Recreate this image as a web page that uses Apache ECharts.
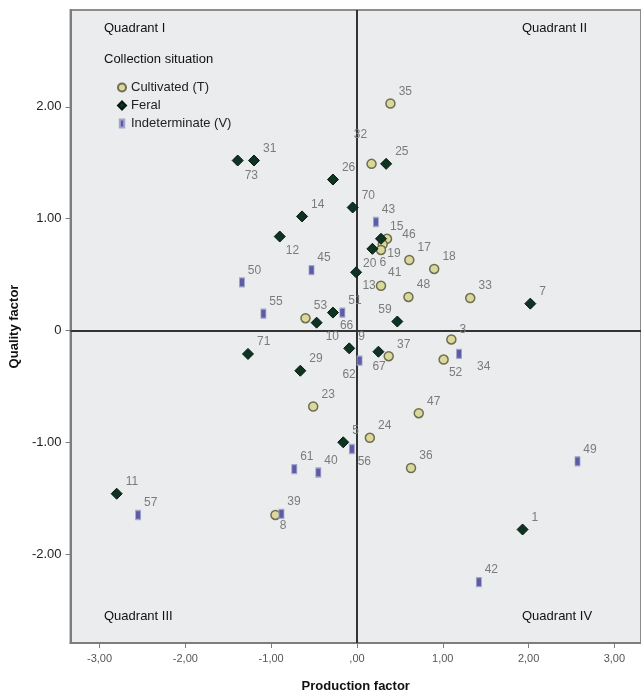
<!DOCTYPE html>
<html>
<head>
<meta charset="utf-8">
<script src="https://cdn.jsdelivr.net/npm/echarts@6/dist/echarts.min.js"></script>
<style>
  html, body { margin: 0; padding: 0; background: #fff; }
  #chart { width: 641px; height: 698px; }
</style>
</head>
<body>
<div id="chart"></div>
<script>
// [production factor, quality factor, case number]
const cultivated = [
  [0.39, 2.03, 35], [0.17, 1.49, 32], [0.35, 0.82, 46], [0.30, 0.77, 41],
  [0.28, 0.72, 19], [0.61, 0.63, 17], [0.90, 0.55, 18], [0.28, 0.40, 13],
  [0.60, 0.30, 48], [1.32, 0.29, 33], [-0.60, 0.11, 53], [1.10, -0.08, 3],
  [1.01, -0.26, 52], [0.37, -0.23, 37], [-0.51, -0.68, 23], [0.72, -0.74, 47],
  [0.15, -0.96, 24], [0.63, -1.23, 36], [-0.95, -1.65, 8],
];
const feral = [
  [-1.39, 1.52, 73], [-1.20, 1.52, 31], [-0.28, 1.35, 26], [0.34, 1.49, 25],
  [-0.05, 1.10, 70], [-0.64, 1.02, 14], [-0.90, 0.84, 12], [0.28, 0.82, 15],
  [0.18, 0.73, 6], [-0.01, 0.52, 20], [-0.28, 0.16, 66], [-0.47, 0.07, 10],
  [0.47, 0.08, 59], [-0.09, -0.16, 9], [0.25, -0.19, 67], [-1.27, -0.21, 71],
  [-0.66, -0.36, 29], [-0.16, -1.00, 5], [-2.80, -1.46, 11], [1.93, -1.78, 1],
  [2.02, 0.24, 7],
];
const indeterminate = [
  [0.22, 0.97, 43], [-0.53, 0.54, 45], [-1.34, 0.43, 50], [-1.09, 0.15, 55],
  [-0.17, 0.16, 51], [0.03, -0.27, 62], [1.19, -0.21, 34], [-0.06, -1.06, 56],
  [-0.73, -1.24, 61], [-0.45, -1.27, 40], [-0.88, -1.64, 39], [1.42, -2.25, 42],
  [-2.55, -1.65, 57], [2.57, -1.17, 49],
];
const xTicks = [-3, -2, -1, 0, 1, 2, 3];
const yTicks = [-2, -1, 0, 1, 2];
const quadrants = ['Quadrant I', 'Quadrant II', 'Quadrant III', 'Quadrant IV'];

const FONT = 'Arial, "Liberation Sans", sans-serif';

// label nudges for the case numbers that do not sit up-right of their point
const labelNudge = {
  73: [-2, 15], 12: [-3, 14], 10: [0, 14], 66: [-2, 13], 67: [-15, 15],
  52: [-3, 13], 34: [12, 13], 62: [-23, 14], 8: [-4, 11], 56: [0, 13],
  6: [-2, 14], 20: [-2, -9], 41: [-3, 28], 19: [-2, 4], 46: [7, -4],
  32: [-26, -29], 59: [-28, -12], 3: [0, -10],
};

function toItems(rows) {
  return rows.map(function (r) {
    const item = { value: r };
    if (r[2] === 13) {
      item.label = { position: 'left', offset: [3, 0] };
    } else if (labelNudge[r[2]]) {
      item.label = { offset: labelNudge[r[2]] };
    }
    return item;
  });
}

const pointLabel = {
  show: true,
  position: 'right',
  distance: 3,
  offset: [0, -12],
  color: '#7b7b7b',
  fontSize: 12,
  fontFamily: FONT,
  formatter: function (p) { return p.value[2]; },
};

const chart = echarts.init(document.getElementById('chart'));

const option = {
  animation: false,
  backgroundColor: '#ffffff',
  grid: {
    left: 70,
    top: 10,
    right: -2,
    bottom: 54,
    show: true,
    backgroundColor: '#ebeced',
    borderColor: '#8c8c8c',
    borderWidth: 2,
  },
  legend: {
    orient: 'vertical',
    left: 112,
    top: 76,
    itemWidth: 8,
    itemHeight: 8,
    itemGap: 5,
    textStyle: { color: '#222', fontSize: 13, fontFamily: FONT },
    data: [
      'Cultivated (T)',
      'Feral',
      { name: 'Indeterminate (V)', icon: 'path://M0,0 H5 V9 H0 Z' },
    ],
  },
  xAxis: {
    type: 'value',
    min: -3.338,
    max: 3.31,
    name: 'Production factor',
    nameLocation: 'middle',
    nameGap: 37,
    nameTextStyle: { color: '#111', fontSize: 13, fontWeight: 'bold', fontFamily: FONT },
    splitLine: { show: false },
    axisLine: { show: true, onZero: false, lineStyle: { color: '#7d7d7d', width: 2 } },
    axisTick: { show: true, length: 5, customValues: xTicks, lineStyle: { color: '#7d7d7d' } },
    axisLabel: {
      color: '#555',
      fontSize: 11,
      fontFamily: FONT,
      margin: 10,
      customValues: xTicks,
      formatter: function (v) {
        const s = v.toFixed(2).replace('.', ',');
        return v === 0 ? ',00' : s;
      },
    },
  },
  yAxis: {
    type: 'value',
    min: -2.795,
    max: 2.866,
    name: 'Quality factor',
    nameLocation: 'middle',
    nameGap: 42,
    nameTextStyle: { color: '#111', fontSize: 13, fontWeight: 'bold', fontFamily: FONT },
    splitLine: { show: false },
    axisLine: { show: true, onZero: false, lineStyle: { color: '#7d7d7d', width: 2 } },
    axisTick: { show: true, length: 5, customValues: yTicks, lineStyle: { color: '#7d7d7d' } },
    axisLabel: {
      color: '#222',
      fontSize: 13,
      fontFamily: FONT,
      margin: 9,
      customValues: yTicks,
      formatter: function (v) { return v === 0 ? '0' : v.toFixed(2); },
    },
  },
  graphic: [
    { type: 'text', left: 104, top: 22, style: { text: quadrants[0], fill: '#111', font: '13px ' + FONT } },
    { type: 'text', left: 522, top: 22, style: { text: quadrants[1], fill: '#111', font: '13px ' + FONT } },
    { type: 'text', left: 104, top: 610, style: { text: quadrants[2], fill: '#111', font: '13px ' + FONT } },
    { type: 'text', left: 522, top: 610, style: { text: quadrants[3], fill: '#111', font: '13px ' + FONT } },
    { type: 'text', left: 104, top: 53, style: { text: 'Collection situation', fill: '#111', font: '13px ' + FONT } },
  ],
  series: [
    {
      name: 'Cultivated (T)',
      type: 'scatter',
      symbol: 'circle',
      symbolSize: 9,
      itemStyle: { color: '#dcd89c', borderColor: '#6e6e50', borderWidth: 1.5, opacity: 1 },
      label: pointLabel,
      data: toItems(cultivated),
      z: 3,
      markLine: {
        silent: true,
        symbol: 'none',
        label: { show: false },
        lineStyle: { color: '#333', width: 2, type: 'solid' },
        data: [{ xAxis: 0 }, { yAxis: 0 }],
        z: 1,
      },
    },
    {
      name: 'Feral',
      type: 'scatter',
      symbol: 'diamond',
      symbolSize: 11,
      itemStyle: { color: '#0f3323', borderColor: '#061a10', borderWidth: 1, opacity: 1 },
      label: pointLabel,
      data: toItems(feral),
      z: 4,
    },
    {
      name: 'Indeterminate (V)',
      type: 'scatter',
      symbol: 'rect',
      symbolSize: [5, 9],
      itemStyle: { color: '#5b5ba6', borderColor: '#a4a4cc', borderWidth: 1, opacity: 1 },
      label: pointLabel,
      data: toItems(indeterminate),
      z: 5,
    },
  ],
};

chart.setOption(option);
</script>
</body>
</html>
